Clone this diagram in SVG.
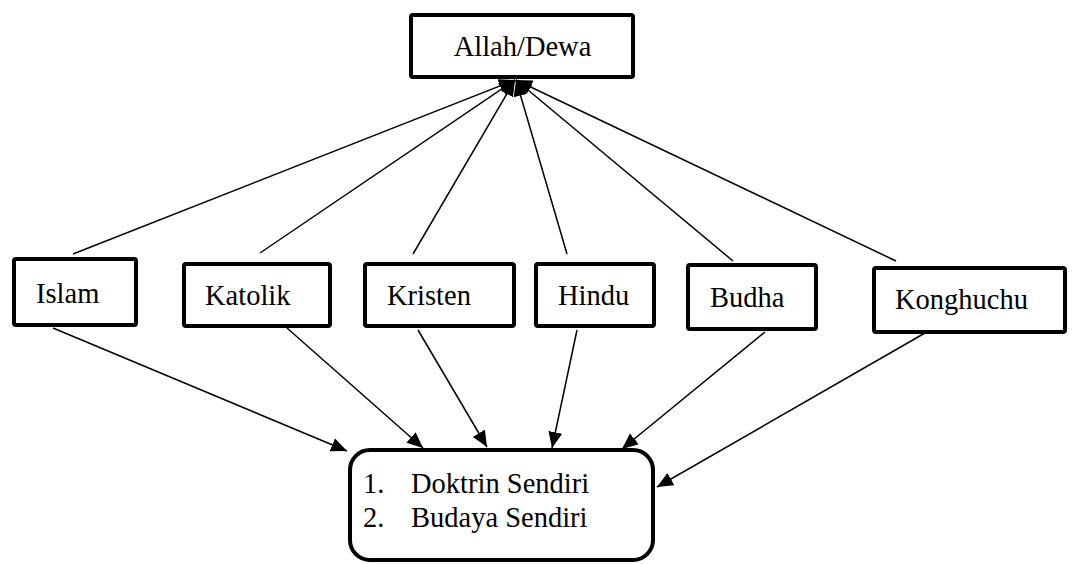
<svg xmlns="http://www.w3.org/2000/svg" width="1077" height="564" viewBox="0 0 1077 564">
<style>
.box{fill:#fff;stroke:#000;stroke-width:4}
.t{font-family:'Liberation Serif','Times New Roman','DejaVu Serif',serif;font-size:28.5px;fill:#000}
.c{stroke:#000;stroke-width:1.5;fill:none}
</style>
<defs>
<marker id="ah" markerUnits="userSpaceOnUse" markerWidth="17" markerHeight="14" refX="16" refY="7" orient="auto">
<path d="M0,0 L16,7 L0,14 Z" fill="#000"/>
</marker>
</defs>
<rect width="1077" height="564" fill="#fff"/>
<g id="connectors">
<line class="c" x1="73" y1="254" x2="515" y2="80" marker-end="url(#ah)"/>
<line class="c" x1="260" y1="253" x2="515" y2="80" marker-end="url(#ah)"/>
<line class="c" x1="413" y1="254" x2="515" y2="80" marker-end="url(#ah)"/>
<line class="c" x1="567" y1="254" x2="516" y2="80" marker-end="url(#ah)"/>
<line class="c" x1="733" y1="261" x2="516" y2="80" marker-end="url(#ah)"/>
<line class="c" x1="896" y1="261" x2="516" y2="80" marker-end="url(#ah)"/>
<line class="c" x1="53" y1="328" x2="347" y2="451" marker-end="url(#ah)"/>
<line class="c" x1="287" y1="328" x2="423" y2="448" marker-end="url(#ah)"/>
<line class="c" x1="418" y1="330" x2="487" y2="447" marker-end="url(#ah)"/>
<line class="c" x1="577" y1="330" x2="552" y2="448" marker-end="url(#ah)"/>
<line class="c" x1="765" y1="332" x2="622" y2="449" marker-end="url(#ah)"/>
<line class="c" x1="925" y1="333" x2="657" y2="487" marker-end="url(#ah)"/>
</g>
<g id="allah">
<rect class="box" x="411" y="15" width="222" height="62" rx="2"/>
<text class="t" x="522.5" y="56" text-anchor="middle" font-family="'Liberation Serif', serif">Allah/Dewa</text>
</g>
<g id="islam">
<rect class="box" x="14" y="259" width="122" height="66" rx="2"/>
<text class="t" x="36" y="303" font-family="'Liberation Serif', serif">Islam</text>
</g>
<g id="katolik">
<rect class="box" x="184" y="264" width="146" height="62" rx="2"/>
<text class="t" x="205" y="305" font-family="'Liberation Serif', serif">Katolik</text>
</g>
<g id="kristen">
<rect class="box" x="365" y="264" width="149" height="62" rx="2"/>
<text class="t" x="387" y="305" font-family="'Liberation Serif', serif">Kristen</text>
</g>
<g id="hindu">
<rect class="box" x="536" y="264" width="118" height="62" rx="2"/>
<text class="t" x="558" y="305" font-family="'Liberation Serif', serif">Hindu</text>
</g>
<g id="budha">
<rect class="box" x="688" y="265" width="128" height="64" rx="2"/>
<text class="t" x="710" y="307" font-family="'Liberation Serif', serif">Budha</text>
</g>
<g id="konghuchu">
<rect class="box" x="874" y="268" width="191" height="64" rx="2"/>
<text class="t" x="895" y="309" font-family="'Liberation Serif', serif">Konghuchu</text>
</g>
<g id="hasil">
<rect class="box" x="350" y="450" width="303" height="110" rx="20"/>
<text class="t" x="363" y="493" font-family="'Liberation Serif', serif">1.</text>
<text class="t" x="411" y="493" font-family="'Liberation Serif', serif">Doktrin Sendiri</text>
<text class="t" x="363" y="527" font-family="'Liberation Serif', serif">2.</text>
<text class="t" x="411" y="527" font-family="'Liberation Serif', serif">Budaya Sendiri</text>
</g>
</svg>
